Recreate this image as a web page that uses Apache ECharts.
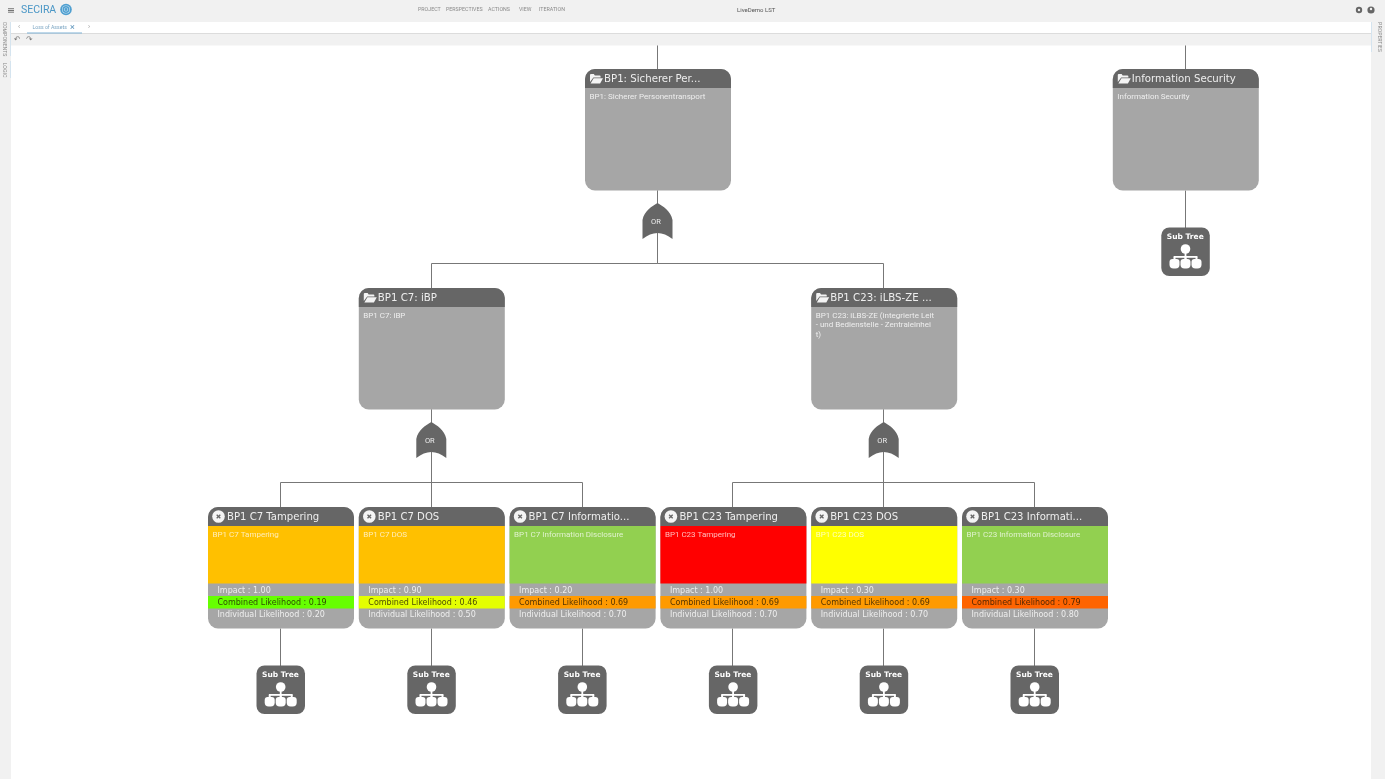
<!DOCTYPE html>
<html>
<head>
<meta charset="utf-8">
<title>SECIRA attack tree</title>
<style>
html, body { margin: 0; padding: 0; background: #fff; }
#main { width: 1385px; height: 779px; }
</style>
<script src="https://cdn.jsdelivr.net/npm/echarts@6/dist/echarts.min.js"></script>
</head>
<body>
<div id="main"></div>
<script>
// tree nodes, parent is an index in these arrays (-1 = root)
var nodeTitles = ['BP1: Sicherer Per...', 'Information Security', 'BP1 C7: iBP', 'BP1 C23: iLBS-ZE ...',
    'BP1 C7 Tampering', 'BP1 C7 DOS', 'BP1 C7 Informatio...', 'BP1 C23 Tampering', 'BP1 C23 DOS', 'BP1 C23 Informati...'];
var nodeDescriptions = ['BP1: Sicherer Personentransport', 'Information Security', 'BP1 C7: iBP',
    'BP1 C23: iLBS-ZE (integrierte Leit\n- und Bedienstelle - Zentraleinhei\nt)',
    'BP1 C7 Tampering', 'BP1 C7 DOS', 'BP1 C7 Information Disclosure', 'BP1 C23 Tampering', 'BP1 C23 DOS', 'BP1 C23 Information Disclosure'];
var nodeParents = [-1, -1, 0, 0, 2, 2, 2, 3, 3, 3];
var nodeGates = ['OR', '', 'OR', 'OR', '', '', '', '', '', ''];
var nodeSubTrees = [false, true, false, false, true, true, true, true, true, true];
var nodeRisks = ['', '', '', '', 'high', 'high', 'low', 'critical', 'medium', 'low'];
var impactValues = [null, null, null, null, 1.00, 0.90, 0.20, 1.00, 0.30, 0.30];
var combinedValues = [null, null, null, null, 0.19, 0.46, 0.69, 0.69, 0.69, 0.79];
var individualValues = [null, null, null, null, 0.20, 0.50, 0.70, 0.70, 0.70, 0.80];

var riskColors = { low: '#92d050', medium: '#ffff00', high: '#ffc000', critical: '#ff0000' };
var DARK = '#666666', CARD = '#a6a6a6', LINE = '#777777';
var CARD_W = 146, CARD_H = 121.5, HEAD_H = 19;
var FONT_HEAD = '"DejaVu Sans"', FONT_BODY = 'Roboto';

function likelihoodColor(v) {
    if (v < 0.3) return '#66ff00';
    if (v < 0.6) return '#e4ff00';
    if (v < 0.75) return '#ff9a00';
    return '#ff6400';
}

// tree layout: leaves take the next slot, a parent sits in the middle of its children
var slots = [], levels = [], nextSlot = 0;
function placeNode(i, level) {
    var kids = [];
    nodeParents.forEach(function (p, k) { if (p === i) kids.push(k); });
    levels[i] = level;
    if (kids.length === 0) {
        slots[i] = nextSlot++;
    } else {
        kids.forEach(function (k) { placeNode(k, level + 1); });
        var sum = 0;
        kids.forEach(function (k) { sum += slots[k]; });
        slots[i] = sum / kids.length;
    }
}
nodeParents.forEach(function (p, i) { if (p === -1) placeNode(i, 0); });

var nodeData = nodeTitles.map(function (t, i) { return [slots[i], levels[i], i]; });

function line(x1, y1, x2, y2) {
    return { type: 'line', shape: { x1: x1, y1: y1, x2: x2, y2: y2 }, style: { stroke: LINE, lineWidth: 1 } };
}

function txt(s, x, y, size, color, family, extra) {
    var st = { text: s, x: x, y: y, fill: color, font: size + 'px ' + family, textAlign: 'left', textVerticalAlign: 'middle' };
    for (var k in (extra || {})) st[k] = extra[k];
    return { type: 'text', style: st };
}

function pathShape(d, x, y, w, h, color) {
    return { type: 'path', shape: { pathData: d, layout: 'cover', x: x, y: y, width: w, height: h }, style: { fill: color } };
}

// keep connectors on the pixel grid
function snap(v) {
    return Math.round(v) - 0.5;
}

function renderLinks(params, api) {
    var i = api.value(2);
    var p = api.coord([api.value(0), api.value(1)]);
    var x = snap(p[0]), y = p[1];
    var out = [];
    if (nodeParents[i] === -1) out.push(line(x, y, x, y - 26));
    else {
        var par = api.coord([slots[nodeParents[i]], levels[nodeParents[i]]]);
        var busY = Math.round(y - 25) + 0.5;
        out.push(line(x, y, x, busY));
        out.push(line(snap(par[0]), busY, x, busY));
        out.push(line(snap(par[0]), par[1] + CARD_H, snap(par[0]), busY));
    }
    if (nodeSubTrees[i]) out.push(line(x, y + CARD_H, x, y + CARD_H + 40));
    return { type: 'group', children: out };
}

function renderCard(params, api) {
    var i = api.value(2);
    var p = api.coord([api.value(0), api.value(1)]);
    var cx = p[0], top = p[1], left = cx - CARD_W / 2;
    var out = [];
    var isLeaf = impactValues[i] !== null;

    // body
    out.push({ type: 'rect', shape: { x: left, y: top, width: CARD_W, height: CARD_H, r: 10 }, style: { fill: CARD } });
    if (isLeaf) {
        out.push({ type: 'rect', shape: { x: left, y: top + HEAD_H, width: CARD_W, height: 57.5 }, style: { fill: riskColors[nodeRisks[i]] } });
        out.push({ type: 'rect', shape: { x: left, y: top + 89, width: CARD_W, height: 12.5 }, style: { fill: likelihoodColor(combinedValues[i]) } });
    }
    // header
    out.push({ type: 'rect', shape: { x: left, y: top, width: CARD_W, height: HEAD_H, r: [10, 10, 0, 0] }, style: { fill: DARK } });

    if (isLeaf) {
        out.push({ type: 'circle', shape: { cx: left + 10.5, cy: top + 9.5, r: 6.3 }, style: { fill: '#f4f4f4' } });
        out.push({ type: 'line', shape: { x1: left + 8.7, y1: top + 7.7, x2: left + 12.3, y2: top + 11.3 }, style: { stroke: DARK, lineWidth: 1.3 } });
        out.push({ type: 'line', shape: { x1: left + 12.3, y1: top + 7.7, x2: left + 8.7, y2: top + 11.3 }, style: { stroke: DARK, lineWidth: 1.3 } });
        out.push(txt(nodeTitles[i], left + 19, top + 10, 10.1, '#eeeeee', FONT_HEAD));
    } else {
        out.push(pathShape('M0 1Q0 0 1 0H4L5 1.5H10Q11 1.5 11 2.5V3.5H3.5L0 8ZM3.8 4.3H13.5L10.5 9.5H0.6Z', left + 5, top + 5, 13, 9.5, '#f4f4f4'));
        out.push(txt(nodeTitles[i], left + 19, top + 10, 10.2, '#eeeeee', FONT_HEAD));
    }

    // description
    out.push(txt(nodeDescriptions[i], left + 4.5, top + 23, 8, isLeaf ? 'rgba(255,255,255,0.72)' : '#eeeeee', FONT_BODY,
        { textVerticalAlign: 'top', lineHeight: 9.5 }));

    if (isLeaf) {
        var tx = left + 9.5;
        out.push(txt('Impact : ' + impactValues[i].toFixed(2), tx, top + 83.5, 8, '#eeeeee', FONT_HEAD));
        out.push(txt('Combined Likelihood : ' + combinedValues[i].toFixed(2), tx, top + 95.5, 8, 'rgba(30,20,0,0.78)', FONT_HEAD));
        out.push(txt('Individual Likelihood : ' + individualValues[i].toFixed(2), tx, top + 108, 8, '#eeeeee', FONT_HEAD));
    }

    // gate below the card
    if (nodeGates[i]) {
        out.push(pathShape('M15 0C20 3 28 8 29.5 17V36Q15 24 0.5 36V17C2 8 10 3 15 0Z', cx - 15.5, top + CARD_H + 12.5, 30, 36, DARK));
        out.push(txt(nodeGates[i], cx - 2, top + CARD_H + 31.5, 7.5, '#eeeeee', FONT_BODY, { textAlign: 'center' }));
    }

    // sub tree box
    if (nodeSubTrees[i]) {
        var b = top + CARD_H + 37, bx = cx - 24.5;
        out.push({ type: 'rect', shape: { x: bx, y: b, width: 48.5, height: 48.5, r: 8 }, style: { fill: DARK } });
        out.push(txt('Sub Tree', cx - 0.5, b + 9.5, 7.5, '#ffffff', FONT_HEAD, { textAlign: 'center', font: 'bold 7.5px ' + FONT_HEAD }));
        out.push({ type: 'circle', shape: { cx: cx - 0.3, cy: b + 21.5, r: 4.8 }, style: { fill: '#ffffff' } });
        out.push({ type: 'rect', shape: { x: cx - 1.2, y: b + 25, width: 1.8, height: 8 }, style: { fill: '#ffffff' } });
        out.push({ type: 'rect', shape: { x: cx - 12, y: b + 28.5, width: 23.5, height: 1.8 }, style: { fill: '#ffffff' } });
        [-11.3, -0.3, 10.7].forEach(function (dx) {
            out.push({ type: 'rect', shape: { x: cx + dx - 1, y: b + 29, width: 2, height: 4 }, style: { fill: '#ffffff' } });
            out.push({ type: 'rect', shape: { x: cx + dx - 5, y: b + 31.5, width: 10, height: 9.5, r: [3, 3, 4, 4] }, style: { fill: '#ffffff' } });
        });
    }
    return { type: 'group', children: out };
}

// app frame around the tree
function uiText(s, x, y, size, color, align, rot, family) {
    return {
        type: 'text', z: 101, x: x, y: y, rotation: rot || 0,
        style: { text: s, fill: color, font: size + 'px ' + (family || 'Roboto'), textAlign: align || 'left', textVerticalAlign: 'middle' }
    };
}
function uiRect(x, y, w, h, color) {
    return { type: 'rect', z: 100, shape: { x: x, y: y, width: w, height: h }, style: { fill: color } };
}
var GREY_BAR = '#f1f1f1', MENU = '#8a8a8a';
var frame = [
    uiRect(0, 0, 1385, 22, GREY_BAR),
    uiRect(0, 22, 11, 757, GREY_BAR),
    uiRect(1371, 22, 14, 757, GREY_BAR),
    uiRect(11, 22, 1360, 11, '#ffffff'),
    uiRect(11, 33, 1360, 1, '#dcdcdc'),
    uiRect(11, 34, 1360, 11.5, GREY_BAR),
    uiRect(27, 32.5, 55, 1, '#7fb2d6'),
    uiRect(10, 22, 1, 34, '#d5e4ef'),
    uiRect(10, 61, 1, 17, '#d5e4ef'),
    uiRect(1371, 22, 1, 30, '#d5e4ef'),
    uiRect(8, 8.3, 6, 0.9, '#666666'), uiRect(8, 10, 6, 0.9, '#666666'), uiRect(8, 11.7, 6, 0.9, '#666666'),
    uiText('SECIRA', 21, 10.5, 10.5, '#4b97c6'),
    { type: 'circle', z: 100, shape: { cx: 66, cy: 9.5, r: 5.8 }, style: { fill: '#4f9fd0' } },
    { type: 'ring', z: 101, shape: { cx: 66, cy: 9.5, r: 4, r0: 3.4 }, style: { fill: '#cfe6f4' } },
    { type: 'ring', z: 101, shape: { cx: 66, cy: 9.5, r: 2, r0: 1.4 }, style: { fill: '#cfe6f4' } },
    uiText('PROJECT', 418, 10, 5.3, MENU),
    uiText('PERSPECTIVES', 446, 10, 5.3, MENU),
    uiText('ACTIONS', 488, 10, 5.3, MENU),
    uiText('VIEW', 519, 10, 5.3, MENU),
    uiText('ITERATION', 539, 10, 5.3, MENU),
    uiText('LiveDemo LST', 737, 10, 6, '#555555'),
    uiText('Loss of Assets', 32.5, 28, 5.2, '#7ea7c4'),
    uiText('\u00d7', 70, 27.5, 9, '#5b93bb'),
    uiText('\u2039', 18, 27.5, 7, '#9a9a9a'),
    uiText('\u203a', 88, 27.5, 7, '#9a9a9a'),
    uiText('\u21b6', 14, 39.5, 8, '#777777', 'left', 0, '"DejaVu Sans"'),
    uiText('\u21b7', 26, 39.5, 8, '#777777', 'left', 0, '"DejaVu Sans"'),
    uiText('COMPONENTS', 4, 39, 5.2, MENU, 'center', -Math.PI / 2),
    uiText('LOGIC', 4, 70, 5.2, MENU, 'center', -Math.PI / 2),
    uiText('PROPERTIES', 1379, 37, 5.2, MENU, 'center', -Math.PI / 2),
    { type: 'circle', z: 100, shape: { cx: 1359, cy: 10, r: 3.2 }, style: { fill: '#666666' } },
    { type: 'circle', z: 101, shape: { cx: 1359, cy: 10, r: 1.2 }, style: { fill: GREY_BAR } },
    { type: 'circle', z: 100, shape: { cx: 1371, cy: 10, r: 3.6 }, style: { fill: '#666666' } },
    { type: 'circle', z: 101, shape: { cx: 1371, cy: 9, r: 1.2 }, style: { fill: GREY_BAR } }
];

// one slot = 150.8px, one level = 219px, whole page is the plot area
var myChart = echarts.init(document.getElementById('main'));
var option = {
    animation: false,
    backgroundColor: '#ffffff',
    grid: { left: 0, right: 0, top: 0, bottom: 0 },
    xAxis: { type: 'value', show: false, min: -281 / 150.8, max: (1385 - 281) / 150.8 },
    yAxis: { type: 'value', show: false, inverse: true, min: -69 / 219, max: (779 - 69) / 219 },
    graphic: { elements: frame },
    series: [
        { name: 'links', type: 'custom', z: 1, silent: true, clip: false, renderItem: renderLinks, data: nodeData },
        { name: 'cards', type: 'custom', z: 2, silent: true, clip: false, renderItem: renderCard, data: nodeData }
    ]
};
myChart.setOption(option);
</script>
</body>
</html>
